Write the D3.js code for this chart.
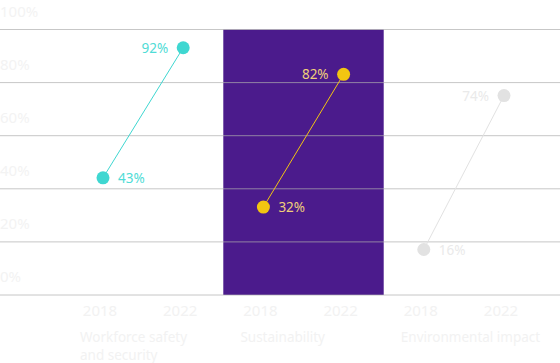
<!DOCTYPE html>
<html>
<head>
<meta charset="utf-8">
<script src="https://cdn.jsdelivr.net/npm/d3@7"></script>
<style>
  body { margin: 0; background: #fff; }
  svg { font-family: "Noto Sans", sans-serif; }
</style>
</head>
<body>
<svg class="chart"></svg>
<script>
// data
let categories = ['Workforce safety|and security', 'Sustainability', 'Environmental impact']
let years = ['2018', '2022']
let values2018 = [43, 32, 16]
let values2022 = [92, 82, 74]
let yTicks = [0, 20, 40, 60, 80, 100]

let dotColors = ['#3fd7d1', '#f2c511', '#e2e2e2']
let labelColors = ['#4fdcd6', '#f0cf7a', '#eaeaea']

let width = 560, height = 363

let chart = d3.select('.chart')
    .attr('width', width)
    .attr('height', height)

let y = d3.scaleLinear().domain([0, 100]).range([295, 29.5])
// the dots sit a touch above the grid scale in the original
let yDot = d3.scaleLinear().domain([0, 100]).range([292, 26.5])

// one slot per (category, year)
let slots = []
categories.forEach((c, i) => years.forEach((yr) => slots.push(i + '-' + yr)))
let x = d3.scalePoint().domain(slots).range([103, 504])
let step = x.step()

// highlighted band behind the middle category
chart.append('rect')
    .attr('x', x('1-2018') - step / 2)
    .attr('y', y(100))
    .attr('width', step * 2)
    .attr('height', y(0) - y(100))
    .attr('fill', '#4b1b8c')

// gridlines
chart.selectAll('.grid')
    .data(yTicks)
  .enter().append('line')
    .attr('x1', 0).attr('x2', width)
    .attr('y1', (d) => y(d)).attr('y2', (d) => y(d))
    .attr('stroke', 'rgb(175,175,175)')
    .attr('stroke-opacity', 0.7)
    .attr('stroke-width', 1)

// y tick labels (very faint, sitting above each line)
chart.selectAll('.ytick')
    .data(yTicks)
  .enter().append('text')
    .attr('x', 0)
    .attr('y', (d) => y(d) - 13)
    .attr('font-size', 15)
    .attr('fill', '#f3f3f3')
    .text((d) => d + '%')

let groups = categories.map((c, i) => ({i: i, a: values2018[i], b: values2022[i]}))

// connectors
chart.selectAll('.link')
    .data(groups)
  .enter().append('line')
    .attr('x1', (d) => x(d.i + '-2018'))
    .attr('y1', (d) => yDot(d.a))
    .attr('x2', (d) => x(d.i + '-2022'))
    .attr('y2', (d) => yDot(d.b))
    .attr('stroke', (d) => dotColors[d.i])
    .attr('stroke-width', 1)

// dots
groups.forEach((g) => {
    [[g.i + '-2018', g.a], [g.i + '-2022', g.b]].forEach((p) => {
        chart.append('circle')
            .attr('cx', x(p[0]))
            .attr('cy', yDot(p[1]))
            .attr('r', 6.5)
            .attr('fill', dotColors[g.i])
    })
})

// value labels: right of 2018 dot, left of 2022 dot
chart.selectAll('.v18')
    .data(groups)
  .enter().append('text')
    .attr('x', (d) => x(d.i + '-2018') + 15)
    .attr('y', (d) => yDot(d.a) + 5)
    .attr('font-size', 13.5)
    .attr('fill', (d) => labelColors[d.i])
    .text((d) => d.a + '%')

chart.selectAll('.v22')
    .data(groups)
  .enter().append('text')
    .attr('x', (d) => x(d.i + '-2022') - 15)
    .attr('y', (d) => yDot(d.b) + 5)
    .attr('text-anchor', 'end')
    .attr('font-size', 13.5)
    .attr('fill', (d) => labelColors[d.i])
    .text((d) => d.b + '%')

// year labels
chart.selectAll('.year')
    .data(slots)
  .enter().append('text')
    .attr('x', (d) => x(d) - 3)
    .attr('y', 316)
    .attr('text-anchor', 'middle')
    .attr('font-size', 15)
    .attr('fill', '#f2f2f2')
    .text((d) => d.split('-')[1])

// category labels
categories.forEach((c, i) => {
    let t = chart.append('text')
        .attr('x', x(i + '-2018') - 23)
        .attr('y', 342)
        .attr('font-size', 13.5)
        .attr('fill', '#f2f2f2')
    c.split('|').forEach((line, k) => {
        t.append('tspan')
            .attr('x', x(i + '-2018') - 23)
            .attr('dy', k === 0 ? 0 : 18)
            .text(line)
    })
})
</script>
</body>
</html>
